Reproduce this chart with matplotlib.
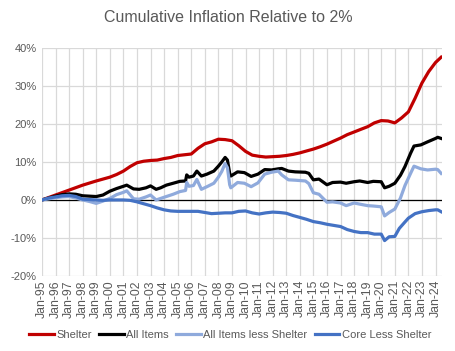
import matplotlib
matplotlib.use("Agg")
import matplotlib.pyplot as plt
import matplotlib.dates as mdates
from matplotlib.ticker import MultipleLocator, FuncFormatter
import pandas as pd

plt.rcParams['font.family'] = ['Liberation Sans', 'DejaVu Sans']

title = "Cumulative Inflation Relative to 2%"
series_names = ["Shelter", "All Items", "All Items less Shelter", "Core Less Shelter"]
series_colors = ["#C00000", "#000000", "#8FAADC", "#4472C4"]

shelter_dates = ["1995-01", "1996-01", "1997-01", "1998-01", "1999-01", "2000-01", "2000-07",
                 "2001-01", "2001-07", "2002-01", "2002-07", "2003-01", "2003-07", "2004-01",
                 "2004-07", "2005-01", "2005-07", "2006-01", "2006-07", "2007-01", "2007-07",
                 "2008-01", "2008-07", "2009-01", "2009-07", "2010-01", "2010-07", "2011-01",
                 "2011-07", "2012-01", "2012-07", "2013-01", "2013-07", "2014-01", "2014-07",
                 "2015-01", "2015-07", "2016-01", "2016-07", "2017-01", "2017-07", "2018-01",
                 "2018-07", "2019-01", "2019-07", "2020-01", "2020-07", "2021-01", "2021-07",
                 "2022-01", "2022-07", "2023-01", "2023-07", "2024-01", "2024-06"]
shelter_vals = [0.0, 1.3, 2.6, 3.9, 5.0, 6.0, 6.7, 7.6, 8.8, 9.8, 10.2, 10.4, 10.5, 10.9,
                11.2, 11.7, 11.9, 12.1, 13.6, 14.8, 15.3, 16.0, 15.9, 15.6, 14.3, 12.8, 11.8,
                11.5, 11.3, 11.4, 11.5, 11.7, 12.0, 12.4, 12.9, 13.4, 14.0, 14.7, 15.5, 16.3,
                17.2, 17.9, 18.6, 19.3, 20.3, 20.9, 20.8, 20.3, 21.6, 23.2, 26.8, 30.8, 33.8,
                36.2, 37.6]

allitems_dates = ["1995-01", "1995-07", "1996-01", "1996-07", "1997-01", "1997-07", "1998-01",
                  "1998-07", "1999-01", "1999-07", "2000-01", "2000-07", "2001-01", "2001-04",
                  "2001-10", "2002-03", "2002-09", "2003-01", "2003-06", "2003-10", "2004-03",
                  "2004-09", "2005-03", "2005-08", "2005-09", "2005-11", "2006-03", "2006-06",
                  "2006-10", "2007-03", "2007-09", "2008-01", "2008-04", "2008-07", "2008-09",
                  "2008-11", "2008-12", "2009-06", "2009-12", "2010-06", "2010-12", "2011-06",
                  "2011-12", "2012-06", "2012-09", "2013-03", "2013-09", "2014-06", "2014-09",
                  "2015-01", "2015-06", "2016-01", "2016-06", "2017-01", "2017-06", "2018-01",
                  "2018-06", "2019-01", "2019-06", "2020-01", "2020-04", "2020-08", "2021-01",
                  "2021-06", "2021-10", "2022-03", "2022-06", "2022-12", "2023-06", "2024-01",
                  "2024-03", "2024-06"]
allitems_vals = [0.0, 0.5, 1.0, 1.4, 1.6, 1.5, 1.1, 1.0, 0.9, 1.3, 2.3, 3.0, 3.6, 3.9,
                 2.9, 2.8, 3.2, 3.7, 2.8, 3.2, 3.9, 4.4, 4.9, 5.0, 6.6, 6.0, 6.3, 7.6,
                 6.3, 6.8, 7.6, 8.9, 10.0, 11.2, 10.5, 7.0, 6.3, 7.4, 7.2, 6.2, 6.8, 8.0,
                 7.9, 8.2, 8.3, 7.6, 7.4, 7.3, 7.0, 5.3, 5.5, 4.0, 4.6, 4.7, 4.4, 4.8,
                 5.0, 4.6, 4.9, 4.8, 3.2, 3.6, 4.4, 6.5, 8.8, 12.3, 14.2, 14.5, 15.3, 16.2,
                 16.5, 16.2]

lessshelter_dates = allitems_dates
lessshelter_vals = [0.0, 0.3, 0.6, 0.8, 0.9, 0.5, 0.0, -0.4, -0.9, -0.3, 0.4, 1.4, 2.0, 2.4,
                    0.3, 0.2, 0.8, 1.3, 0.0, 0.4, 0.9, 1.5, 2.2, 2.5, 4.6, 3.6, 3.8, 5.4,
                    2.8, 3.5, 4.4, 6.0, 7.5, 9.6, 8.5, 4.0, 3.2, 4.6, 4.4, 3.5, 4.5, 6.8,
                    7.3, 7.6, 6.6, 5.3, 5.2, 5.0, 4.3, 1.9, 1.5, -0.6, -0.5, -0.8, -1.5, -0.8,
                    -1.1, -1.5, -1.6, -1.8, -4.2, -3.3, -2.4, 0.5, 3.8, 7.0, 8.9, 8.2, 7.9, 8.1,
                    8.0, 7.0]

core_dates = ["1995-01", "1995-07", "1996-01", "1996-07", "1997-01", "1997-07", "1998-01",
              "1998-07", "1999-01", "1999-07", "2000-01", "2001-01", "2001-07", "2002-01",
              "2002-07", "2003-01", "2003-07", "2004-01", "2004-07", "2005-01", "2005-07",
              "2006-01", "2006-07", "2007-01", "2007-07", "2008-01", "2008-07", "2009-01",
              "2009-07", "2010-01", "2010-07", "2011-01", "2011-07", "2012-01", "2012-07",
              "2013-01", "2013-07", "2014-01", "2014-07", "2015-01", "2015-07", "2016-01",
              "2016-07", "2017-01", "2017-07", "2018-01", "2018-07", "2019-01", "2019-07",
              "2020-01", "2020-04", "2020-08", "2021-01", "2021-05", "2021-10", "2022-01",
              "2022-07", "2023-01", "2023-07", "2024-01", "2024-03", "2024-06"]
core_vals = [0.0, 0.5, 0.8, 1.1, 1.2, 0.9, 0.2, 0.1, 0.0, -0.1, 0.0, 0.0, -0.1, -0.5,
             -1.0, -1.5, -2.1, -2.6, -2.9, -3.0, -3.0, -3.0, -3.0, -3.3, -3.6, -3.5, -3.4,
             -3.4, -3.0, -2.9, -3.4, -3.7, -3.4, -3.2, -3.3, -3.5, -4.1, -4.6, -5.1, -5.7,
             -6.0, -6.4, -6.7, -7.0, -7.8, -8.3, -8.6, -8.6, -9.0, -9.0, -10.7, -9.7, -9.6,
             -7.5, -5.8, -4.8, -3.6, -3.1, -2.8, -2.6, -2.6, -3.1]

all_dates = [shelter_dates, allitems_dates, lessshelter_dates, core_dates]
all_vals = [shelter_vals, allitems_vals, lessshelter_vals, core_vals]

fig = plt.figure(figsize=(4.56, 3.51), dpi=100)
ax = fig.add_axes([0.092, 0.214, 0.877, 0.649])

grid_c = "#D9D9D9"
text_c = "#595959"

for d, v, name, c in zip(all_dates, all_vals, series_names, series_colors):
    ax.plot(pd.to_datetime(d), v, color=c, lw=2.3, label=name, zorder=3,
            solid_joinstyle='round')

ax.axhline(0, color="black", lw=0.9, zorder=2)

ax.set_ylim(-20, 40)
ax.set_xlim(pd.Timestamp("1995-01-01"), pd.Timestamp("2024-06-20"))
ax.yaxis.set_major_locator(MultipleLocator(10))
ax.yaxis.set_major_formatter(FuncFormatter(lambda v, p: f"{v:.0f}%"))
ax.xaxis.set_major_locator(mdates.YearLocator(1, month=1, day=1))
ax.xaxis.set_major_formatter(mdates.DateFormatter("%b-%y"))
ax.grid(True, color=grid_c, lw=0.9, zorder=0)
for s in ax.spines.values():
    s.set_visible(False)
ax.tick_params(axis='both', length=0, colors=text_c, labelsize=8)
ax.tick_params(axis='x', pad=3, labelrotation=90, labelsize=8.8)
ax.tick_params(axis='y', pad=4)

fig.text(0.5, 0.95, title, ha='center', va='center', fontsize=11.5, color=text_c)

leg = fig.legend(loc='center', bbox_to_anchor=(0.505, 0.045), ncol=4, frameon=False,
                 fontsize=8, handlelength=2.2, handletextpad=0.2, columnspacing=0.7,
                 labelcolor=text_c)

fig.savefig("out.png", dpi=100)
